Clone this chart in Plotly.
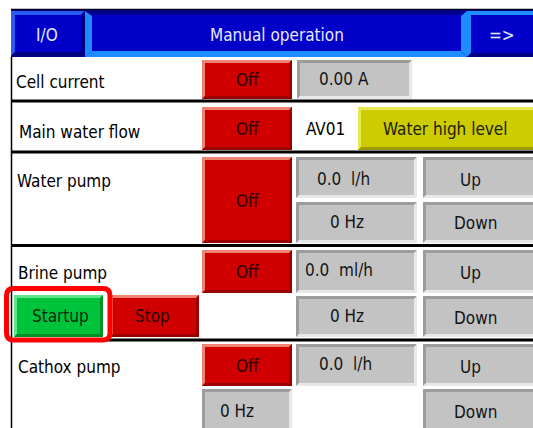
import plotly.graph_objects as go

# ---- content (texts shown on the panel) ----
header_labels = ["I/O", "Manual operation", "=>"]
row_labels = ["Cell current", "Main water flow", "Water pump", "Brine pump", "Cathox pump"]
status_labels = ["Off", "Off", "Off", "Off", "Off"]
cell_current = "0.00 A"
valve_label = "AV01"
alarm_label = "Water high level"
flow_readings = ["0.0  l/h", "0.0  ml/h", "0.0  l/h"]
freq_readings = ["0 Hz", "0 Hz", "0 Hz"]
step_labels = ["Up", "Down"]
brine_actions = ["Startup", "Stop"]

W, H = 533, 428
FONT = "DejaVu Sans Condensed, Liberation Sans, Arial, sans-serif"
FS = 17
shapes, annos = [], []


def rect(x0, y0, x1, y1, color):
    shapes.append(dict(type="rect", xref="x", yref="y", x0=x0, y0=y0, x1=x1, y1=y1,
                       fillcolor=color, line=dict(width=0), layer="above"))


def poly(pts, color):
    d = "M " + " L ".join(f"{x},{y}" for x, y in pts) + " Z"
    shapes.append(dict(type="path", xref="x", yref="y", path=d, fillcolor=color,
                       line=dict(width=0), layer="above"))


def line(x0, y0, x1, y1, color="#000000", width=2):
    shapes.append(dict(type="line", xref="x", yref="y", x0=x0, y0=y0, x1=x1, y1=y1,
                       line=dict(color=color, width=width), layer="above"))


def button(x0, y0, x1, y1, face, light, dark, bw=3):
    rect(x0, y0, x1, y1, face)
    poly([(x0, y0), (x1, y0), (x1 - bw, y0 + bw), (x0 + bw, y0 + bw), (x0 + bw, y1 - bw), (x0, y1)], light)
    poly([(x1, y1), (x0, y1), (x0 + bw, y1 - bw), (x1 - bw, y1 - bw), (x1 - bw, y0 + bw), (x1, y0)], dark)


def text(x, y, s, color="#000000", size=FS, anchor="center"):
    s = s.replace("  ", " \u00a0")
    annos.append(dict(x=x, y=y, text=s, showarrow=False, xanchor=anchor, yanchor="middle",
                      xref="x", yref="y", font=dict(family=FONT, size=size, color=color)))


RED = ("#D10000", "#F08474", "#9A0000")
GRAY = ("#C3C3C3", "#9C9C9C", "#E8E8E8")
GREEN = ("#00C33C", "#5FE58C", "#00902A")
YELLOW = ("#CCCC00", "#E8E850", "#9C9C00")
RED_TXT = "#2A0000"
GRAY_TXT = "#141414"

# ---- header ----
rect(11, 9, W, 57, "#00008A")
line(11, 9.5, W, 9.5, "#000020", 1.5)
button(11, 11, 85, 56, "#0000C8", "#2A5CF0", "#000080", bw=4)
rect(85, 11, 467, 57, "#0000C8")
poly([(85, 11), (467, 11), (467, 15), (85, 15)], "#000090")
poly([(85, 11), (92, 16), (92, 51), (85, 57)], "#1E8CFF")
poly([(85, 57), (467, 57), (461, 51), (92, 51)], "#1E8CFF")
poly([(467, 11), (467, 57), (461, 51), (461, 16)], "#1E8CFF")
button(467, 11, W + 4, 57, "#0000C8", "#1E8CFF", "#000080", bw=4)
text(47, 35, header_labels[0], "#E8E8FF")
text(277, 35, header_labels[1], "#E8E8FF")
text(502, 35, header_labels[2], "#E8E8FF")

# ---- panel frame ----
line(11.5, 57, 11.5, H + 2, "#000000", 1.5)
for yy in [101, 152, 245.5, 340]:
    line(11, yy, W, yy, "#000000", 3)

# ---- Cell current ----
text(14, 82, row_labels[0], anchor="left")
button(202, 60, 292, 99, *RED)
text(247, 80, status_labels[0], RED_TXT)
button(297, 60, 412, 99, *GRAY)
text(344, 79, cell_current, GRAY_TXT)

# ---- Main water flow ----
text(17, 132, row_labels[1], anchor="left")
button(202, 107, 292, 150, *RED)
text(247, 129, status_labels[1], RED_TXT)
text(325, 129, valve_label)
button(358, 107, W + 4, 150, *YELLOW)
text(445, 129, alarm_label, "#202000")

# ---- Water pump ----
text(15, 181, row_labels[2], anchor="left")
button(202, 157, 292, 243, *RED)
text(247, 201, status_labels[2], RED_TXT)
button(296, 157, 417, 198, *GRAY)
text(343, 179, flow_readings[0], GRAY_TXT)
button(296, 202, 417, 243, *GRAY)
text(347, 222, freq_readings[0], GRAY_TXT)
button(423, 157, W + 4, 198, *GRAY)
text(470, 180, step_labels[0], GRAY_TXT)
button(423, 202, W + 4, 243, *GRAY)
text(475, 223, step_labels[1], GRAY_TXT)

# ---- Brine pump ----
text(16, 273, row_labels[3], anchor="left")
button(202, 250, 292, 293, *RED)
text(247, 272, status_labels[3], RED_TXT)
button(296, 250, 417, 293, *GRAY)
text(303, 270, flow_readings[1], GRAY_TXT, anchor="left")
button(423, 250, W + 4, 293, *GRAY)
text(470, 273, step_labels[0], GRAY_TXT)
button(110, 295, 199, 337, *RED)
text(152, 316, brine_actions[1], RED_TXT)
button(14, 295, 103, 337, *GREEN)
text(60, 316, brine_actions[0], "#002A0C")
button(296, 296, 417, 337, *GRAY)
text(347, 316, freq_readings[1], GRAY_TXT)
button(423, 296, W + 4, 337, *GRAY)
text(475, 318, step_labels[1], GRAY_TXT)
r, x0, y0, x1, y1 = 7, 6.5, 288.5, 110, 340
shapes.append(dict(type="path", xref="x", yref="y", layer="above", fillcolor="rgba(0,0,0,0)",
                   line=dict(color="#FF0000", width=5),
                   path=(f"M {x0 + r},{y0} L {x1 - r},{y0} Q {x1},{y0} {x1},{y0 + r} "
                         f"L {x1},{y1 - r} Q {x1},{y1} {x1 - r},{y1} L {x0 + r},{y1} "
                         f"Q {x0},{y1} {x0},{y1 - r} L {x0},{y0 + r} Q {x0},{y0} {x0 + r},{y0} Z")))

# ---- Cathox pump ----
text(16, 367, row_labels[4], anchor="left")
button(202, 344, 292, 386, *RED)
text(247, 366, status_labels[4], RED_TXT)
button(296, 344, 417, 386, *GRAY)
text(345, 364, flow_readings[2], GRAY_TXT)
button(423, 344, W + 4, 386, *GRAY)
text(470, 367, step_labels[0], GRAY_TXT)
button(202, 389, 292, H + 6, *GRAY)
text(237, 411, freq_readings[2], GRAY_TXT)
button(423, 389, W + 4, H + 6, *GRAY)
text(475, 412, step_labels[1], GRAY_TXT)

fig = go.Figure()
fig.update_layout(
    width=W, height=H, margin=dict(l=0, r=0, t=0, b=0),
    paper_bgcolor="#FFFFFF", plot_bgcolor="#FFFFFF",
    xaxis=dict(range=[0, W], visible=False, fixedrange=True),
    yaxis=dict(range=[H, 0], visible=False, fixedrange=True),
    shapes=shapes, annotations=annos, showlegend=False,
)
fig.write_html("out.html", config={"displayModeBar": False},
               post_script="document.body.style.margin='0';document.body.style.overflow='hidden';")
